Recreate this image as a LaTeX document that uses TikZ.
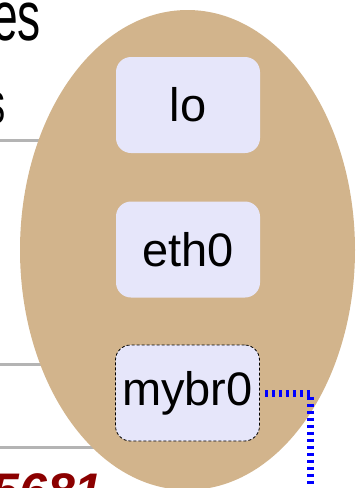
\documentclass[tikz,border=0pt]{standalone}
\usepackage{fontspec}
\setmainfont{Liberation Sans}
\definecolor{hostfill}{HTML}{D2B48C}
\definecolor{ifacefill}{HTML}{E6E6FA}
\definecolor{rulegray}{HTML}{B4B4B4}
\definecolor{portred}{HTML}{8B0000}
\begin{document}
\begin{tikzpicture}[x=1pt,y=1pt,
  iface/.style={rounded corners=15pt, fill=ifacefill, minimum width=144pt,
    minimum height=96pt, inner sep=0pt, font=\fontsize{47}{56}\selectfont},
  bridge/.style={iface, draw=black, line width=0.8pt, dash pattern=on 3pt off 2pt},
  rowrule/.style={draw=rulegray, line width=3pt},
  bluelink/.style={draw=blue, line width=7pt, dash pattern=on 3pt off 4pt},
  bigtext/.style={inner sep=0pt, font=\fontsize{70}{80}\selectfont}]
\useasboundingbox (0,0) rectangle (358,-488);
\clip (0,0) rectangle (358,-488);

% table rules running behind the host
\draw[rowrule] (0,-140) -- (120,-140);
\draw[rowrule] (0,-364) -- (120,-364);
\draw[rowrule] (0,-447) -- (140,-447);

% headings at the left
\node[bigtext, anchor=base east] (head1) at (41,-40) {\scalebox{0.66}[1]{es}};
\node[bigtext, anchor=base east, font=\fontsize{58}{66}\selectfont] (head2) at (6,-123) {\scalebox{0.66}[1]{s}};

% host
\fill[hostfill] (187.5,-250) ellipse [x radius=167.5, y radius=240];

% interfaces
\node[iface] (lo) at (188,-105) {lo};
\node[iface] (eth0) at (188,-249.5) {eth0};
\node[bridge] (mybr0) at (187.5,-393) {mybr0};

% port number
\node[anchor=base east, inner sep=0pt, text=portred,
  font=\fontsize{50}{60}\selectfont\bfseries\itshape] (port) at (103,-508) {5681};

% bridge link leaving the host
\coordinate (linkend) at (310,-500);
\draw[bluelink, shorten <=5pt] (mybr0.east) -| (linkend);
\end{tikzpicture}
\end{document}
